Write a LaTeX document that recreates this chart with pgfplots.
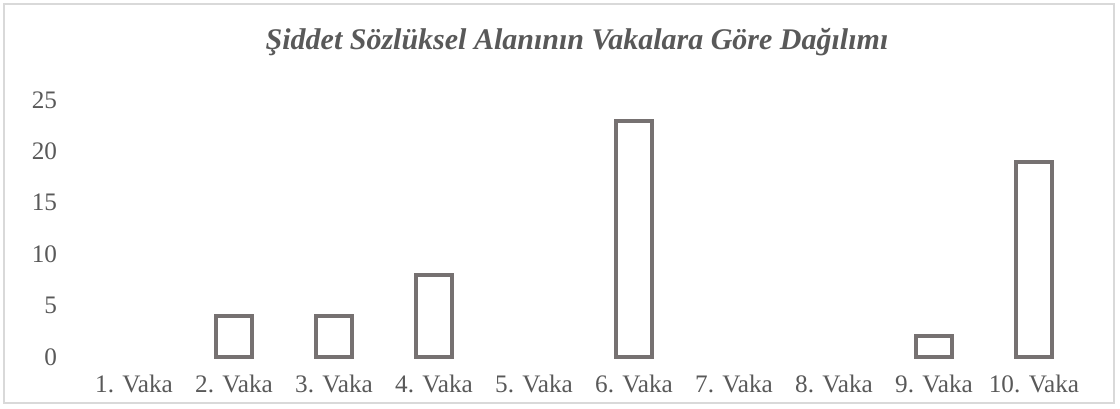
\documentclass[border=0pt]{standalone}
\usepackage{pgfplots}
\pgfplotsset{compat=1.18}
\usepackage{fontspec}
\setmainfont{Liberation Serif}
\definecolor{bargray}{HTML}{767171}
\definecolor{txtgray}{HTML}{595959}
\definecolor{brd}{HTML}{D9D9D9}
\begin{document}
\begin{tikzpicture}[x=1bp,y=1bp]
% bounding box: image px (X,Y) -> ((X-84)*0.5, (357-Y)*0.5)
\path[use as bounding box] (-42,-25.5) rectangle (518,178.5);
\draw[brd, line width=1.2bp] (-40,-23) rectangle (515,176.5);
\begin{axis}[
  at={(0,0)}, anchor=origin,
  scale only axis,
  width=500bp, height=128.5bp,
  xmin=0.5, xmax=10.5,
  ymin=0, ymax=25,
  ytick={0,5,10,15,20,25},
  xtick={1,...,10},
  xticklabels={1. Vaka,2. Vaka,3. Vaka,4. Vaka,5. Vaka,6. Vaka,7. Vaka,8. Vaka,9. Vaka,10. Vaka},
  axis line style={draw=none},
  major tick length=0pt,
  tick style={draw=none},
  /pgf/number format/assume math mode=true,
  ticklabel style={font=\fontsize{12.6bp}{14bp}\selectfont, text=txtgray},
  yticklabel style={xshift=-10bp},
  xticklabel style={yshift=-5.5bp},
  restrict y to domain=0.5:100,
  unbounded coords=discard,
  clip=false,
]
\addplot[ybar, bar width=18bp, draw=bargray, line width=2bp, fill=none]
  coordinates {(1,0) (2,4) (3,4) (4,8) (5,0) (6,23) (7,0) (8,0) (9,2) (10,19)};
\end{axis}
\node[text=txtgray, font=\fontsize{15bp}{18bp}\selectfont\bfseries\itshape] at (246.5,157.5) {Şiddet Sözlüksel Alanının Vakalara Göre Dağılımı};
\end{tikzpicture}
\end{document}
